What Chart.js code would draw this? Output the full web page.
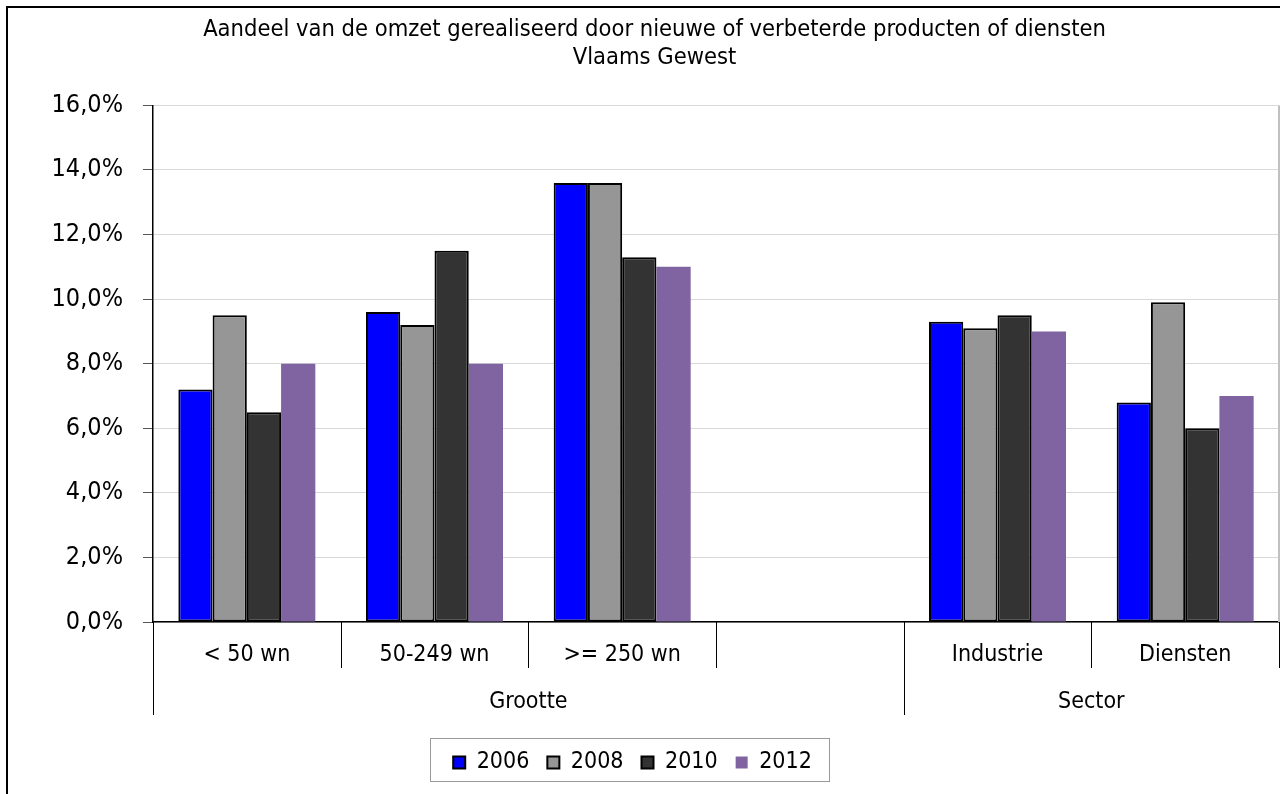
<!DOCTYPE html>
<html>
<head>
<meta charset="utf-8">
<script src="https://cdn.jsdelivr.net/npm/chart.js@4.4.1/dist/chart.umd.min.js"></script>
<style>
  html, body { margin: 0; padding: 0; background: #ffffff; }
  #wrap { position: relative; width: 1284px; height: 794px; }
</style>
</head>
<body>
<div id="wrap"><canvas id="c" width="1284" height="794"></canvas></div>
<script>
// ---- data ----
const titleLines = ['Aandeel van de omzet gerealiseerd door nieuwe of verbeterde producten of diensten', 'Vlaams Gewest'];
const categories = ['< 50 wn', '50-249 wn', '>= 250 wn', '', 'Industrie', 'Diensten'];
const groupNames = ['Grootte', 'Sector'];
const groupSpans = [4, 2];
const seriesNames = ['2006', '2008', '2010', '2012'];
const values2006 = [7.2, 9.6, 13.6, null, 9.3, 6.8];
const values2008 = [9.5, 9.2, 13.6, null, 9.1, 9.9];
const values2010 = [6.5, 11.5, 11.3, null, 9.5, 6.0];
const values2012 = [8.0, 8.0, 11.0, null, 9.0, 7.0];
const yMin = 0, yMax = 16, yStep = 2;

const FONT = "'DejaVu Sans Condensed', 'DejaVu Sans', sans-serif";

const colors = ['#0000FF', '#969696', '#333333', '#8064A2'];
const borders = [2, 2, 2, 0];
const seriesValues = [values2006, values2008, values2010, values2012];

const datasets = seriesNames.map((n, i) => ({
  label: n,
  data: seriesValues[i],
  backgroundColor: colors[i],
  borderColor: '#000000',
  borderWidth: borders[i],
  borderSkipped: false,
  categoryPercentage: 0.73,
  barPercentage: 1.0
}));

const LEGEND_SHIFT = -12;
const TITLE_SHIFT = 10;

const framePlugin = {
  id: 'frame',
  afterUpdate(chart) {
    const lg = chart.legend;
    if (lg && !lg._shifted) {
      lg.left += LEGEND_SHIFT;
      lg.right += LEGEND_SHIFT;
      if (lg.legendHitBoxes) lg.legendHitBoxes.forEach(h => { h.left += LEGEND_SHIFT; });
      lg._shifted = true;
    }
    const tb = chart.titleBlock;
    if (tb && !tb._shifted) {
      tb.left += TITLE_SHIFT;
      tb.right += TITLE_SHIFT;
      tb._shifted = true;
    }
  },
  beforeDraw(chart) {
    const ctx = chart.ctx;
    ctx.save();
    ctx.fillStyle = '#ffffff';
    ctx.fillRect(0, 0, chart.width, chart.height);
    ctx.fillStyle = '#000000';
    ctx.fillRect(6, 6, 2, chart.height - 6);
    ctx.fillRect(6, 6, chart.width - 4 - 6, 2);
    ctx.restore();
  },
  afterDatasetsDraw(chart) {
    const ctx = chart.ctx;
    const a = chart.chartArea;
    const x = chart.scales.x;
    ctx.save();
    // right border of plot area
    ctx.strokeStyle = '#c0c0c0';
    ctx.lineWidth = 2;
    ctx.beginPath();
    ctx.moveTo(a.right, a.top);
    ctx.lineTo(a.right, a.bottom);
    ctx.stroke();
    // category separators
    const n = categories.length;
    const bounds = [];
    for (let i = 0; i <= n; i++) {
      if (i === 0) bounds.push(a.left);
      else if (i === n) bounds.push(a.right);
      else bounds.push((x.getPixelForTick(i - 1) + x.getPixelForTick(i)) / 2);
    }
    const groupBounds = [0];
    groupSpans.forEach(s => groupBounds.push(groupBounds[groupBounds.length - 1] + s));
    ctx.strokeStyle = '#000000';
    ctx.lineWidth = 1;
    bounds.forEach((bx, i) => {
      const isGroup = groupBounds.includes(i) && i !== n;
      ctx.beginPath();
      const px = Math.round(bx) + 0.5;
      ctx.moveTo(px, a.bottom);
      ctx.lineTo(px, a.bottom + (isGroup ? 93 : 46));
      ctx.stroke();
    });
    // group labels
    ctx.fillStyle = '#000000';
    ctx.font = '23px ' + FONT;
    ctx.textAlign = 'center';
    ctx.textBaseline = 'middle';
    groupNames.forEach((g, gi) => {
      const l = bounds[groupBounds[gi]];
      const r = bounds[groupBounds[gi + 1]];
      ctx.fillText(g, (l + r) / 2, a.bottom + 80);
    });
    // legend box
    const lg = chart.legend;
    if (lg && lg.legendHitBoxes && lg.legendHitBoxes.length) {
      const hb = lg.legendHitBoxes;
      const left = hb[0].left - 23;
      const right = hb[hb.length - 1].left + hb[hb.length - 1].width + 17;
      const top = hb[0].top - 13;
      const bottom = hb[0].top + hb[0].height + 7;
      ctx.strokeStyle = '#999999';
      ctx.lineWidth = 1;
      ctx.strokeRect(Math.round(left) + 0.5, Math.round(top) + 0.5, Math.round(right - left), Math.round(bottom - top));
    }
    ctx.restore();
  }
};

new Chart(document.getElementById('c'), {
  type: 'bar',
  data: { labels: categories, datasets },
  plugins: [framePlugin],
  options: {
    responsive: false,
    animation: false,
    devicePixelRatio: 1,
    layout: { padding: { left: 10, right: 5, top: 14, bottom: 10 } },
    plugins: {
      tooltip: { enabled: false },
      title: {
        display: true,
        text: titleLines,
        color: '#000000',
        font: { family: FONT, size: 23.5, weight: 'normal', lineHeight: 1.2 },
        padding: { top: 2, bottom: 33 }
      },
      legend: {
        display: true,
        position: 'bottom',
        labels: {
          color: '#000000',
          font: { family: FONT, size: 23 },
          boxWidth: 12,
          boxHeight: 12,
          padding: 18
        }
      }
    },
    scales: {
      x: {
        grid: { display: false },
        border: { display: true, color: '#000000', width: 1.5 },
        ticks: { color: '#000000', font: { family: FONT, size: 23 }, padding: 11, maxRotation: 0, autoSkip: false },
        afterFit(s) { s.height = 111; }
      },
      y: {
        min: yMin,
        max: yMax,
        ticks: {
          stepSize: yStep,
          color: '#000000',
          font: { family: FONT, size: 25 },
          padding: 20,
          callback: v => v.toFixed(1).replace('.', ',') + '%'
        },
        grid: { color: '#d9d9d9', lineWidth: 1, tickColor: '#555555', tickLength: 10, drawTicks: true },
        border: { display: true, color: '#000000', width: 1.5 },
        afterFit(s) { s.width = 143; }
      }
    }
  }
});
</script>
</body>
</html>
